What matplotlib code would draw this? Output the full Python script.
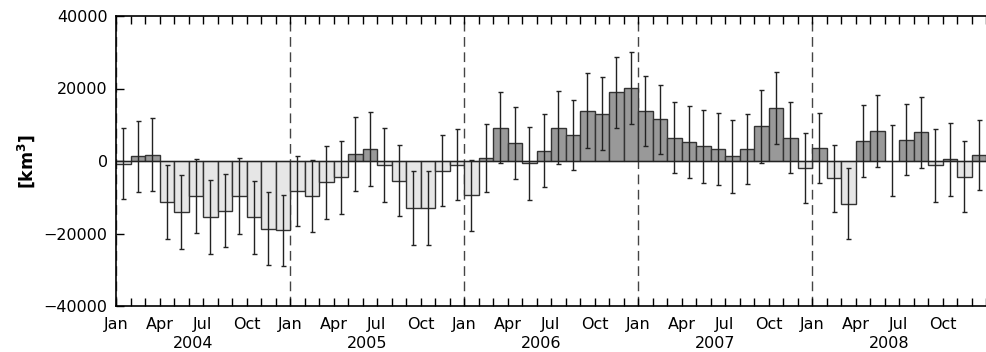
import matplotlib
matplotlib.use("Agg")
import matplotlib.pyplot as plt
import numpy as np

years = ["2004", "2005", "2006", "2007", "2008"]
month_labels = ["Jan", "Apr", "Jul", "Oct"]

v2004 = [-700, 1300, 1750, -11300, -14100, -9650, -15550, -13700, -9650, -15550, -18750, -19150]
v2005 = [-8200, -9650, -5900, -4500, 2000, 3300, -1100, -5400, -12950, -12950, -2650, -1000]
v2006 = [-9400, 900, 9200, 4900, -650, 2850, 9200, 7200, 13900, 13050, 18950, 20150]
v2007 = [13800, 11500, 6450, 5250, 4050, 3300, 1300, 3300, 9550, 14600, 6450, -1900]
v2008 = [3600, -4700, -11800, 5500, 8300, 100, 5900, 7900, -1200, 450, -4300, 1550]

e2004 = [9880, 9850, 10020, 10210, 10210, 10260, 10210, 10020, 10430, 9990, 10070, 9880]
e2005 = [9710, 9930, 10020, 10020, 10210, 10260, 10210, 9790, 10210, 10210, 9790, 9850]
e2006 = [9790, 9380, 9850, 9990, 10020, 9990, 10020, 9660, 10260, 10020, 9790, 9850]
e2007 = [9710, 9520, 9880, 9850, 10070, 10020, 10020, 9660, 10020, 10020, 9880, 9660]
e2008 = [9660, 9240, 9850, 9850, 9850, 9850, 9880, 9850, 10070, 10070, 9850, 9660]

values = np.array(v2004 + v2005 + v2006 + v2007 + v2008, dtype=float)
errors = np.array(e2004 + e2005 + e2006 + e2007 + e2008, dtype=float)
n = len(values)
x = np.arange(n)

plt.rcParams['font.family'] = ['DejaVu Sans']

fig = plt.figure(figsize=(9.86, 3.52), dpi=100)
ax = fig.add_axes([116/986, 46/352, 870/986, 290/352])

colors = np.where(values >= 0, "#999999", "#e6e6e6")
ax.bar(x, values, width=1.0, align="edge", color=colors, edgecolor="#333333",
       linewidth=1.0, zorder=2)
ax.errorbar(x + 0.5, values, yerr=errors, fmt="none", ecolor="#222222",
            elinewidth=1.0, capsize=1.8, capthick=1.0, zorder=3)
ax.axhline(0, color="#222222", linewidth=0.9, zorder=2.5)

for i in range(len(years)):
    ax.axvline(12 * i, color="#444444", linewidth=1.0, dashes=(7, 4), zorder=1)

ax.set_xlim(0, 870 / (704 / 48))
ax.set_ylim(-40000, 40000)
ax.set_yticks([-40000, -20000, 0, 20000, 40000])
ax.set_yticklabels(["\u221240000", "\u221220000", "0", "20000", "40000"])

major = [m for m in range(n) if m % 3 == 0]
ax.set_xticks(major)
ax.set_xticklabels([month_labels[(m % 12) // 3] for m in major])
ax.set_xticks(np.arange(n + 1), minor=True)

ax.tick_params(axis="x", which="both", direction="in", top=True, bottom=True,
               length=6, width=1, pad=8, labelsize=11.5)
ax.tick_params(axis="y", which="both", direction="in", left=True, right=False,
               length=6, width=1, pad=6, labelsize=11.5)

ax.spines["right"].set_visible(False)
for s in ["left", "top", "bottom"]:
    ax.spines[s].set_linewidth(1.2)

trans = ax.get_xaxis_transform()
for i, yr in enumerate(years):
    ax.text(12 * i + 5.35, -37 / 290, yr, transform=trans, ha="center", va="center",
            fontsize=11.5)

ax.set_ylabel("[km$^\\mathbf{3}$]", fontsize=12.5, fontweight="bold", labelpad=5)

fig.savefig("out.png", dpi=100)
